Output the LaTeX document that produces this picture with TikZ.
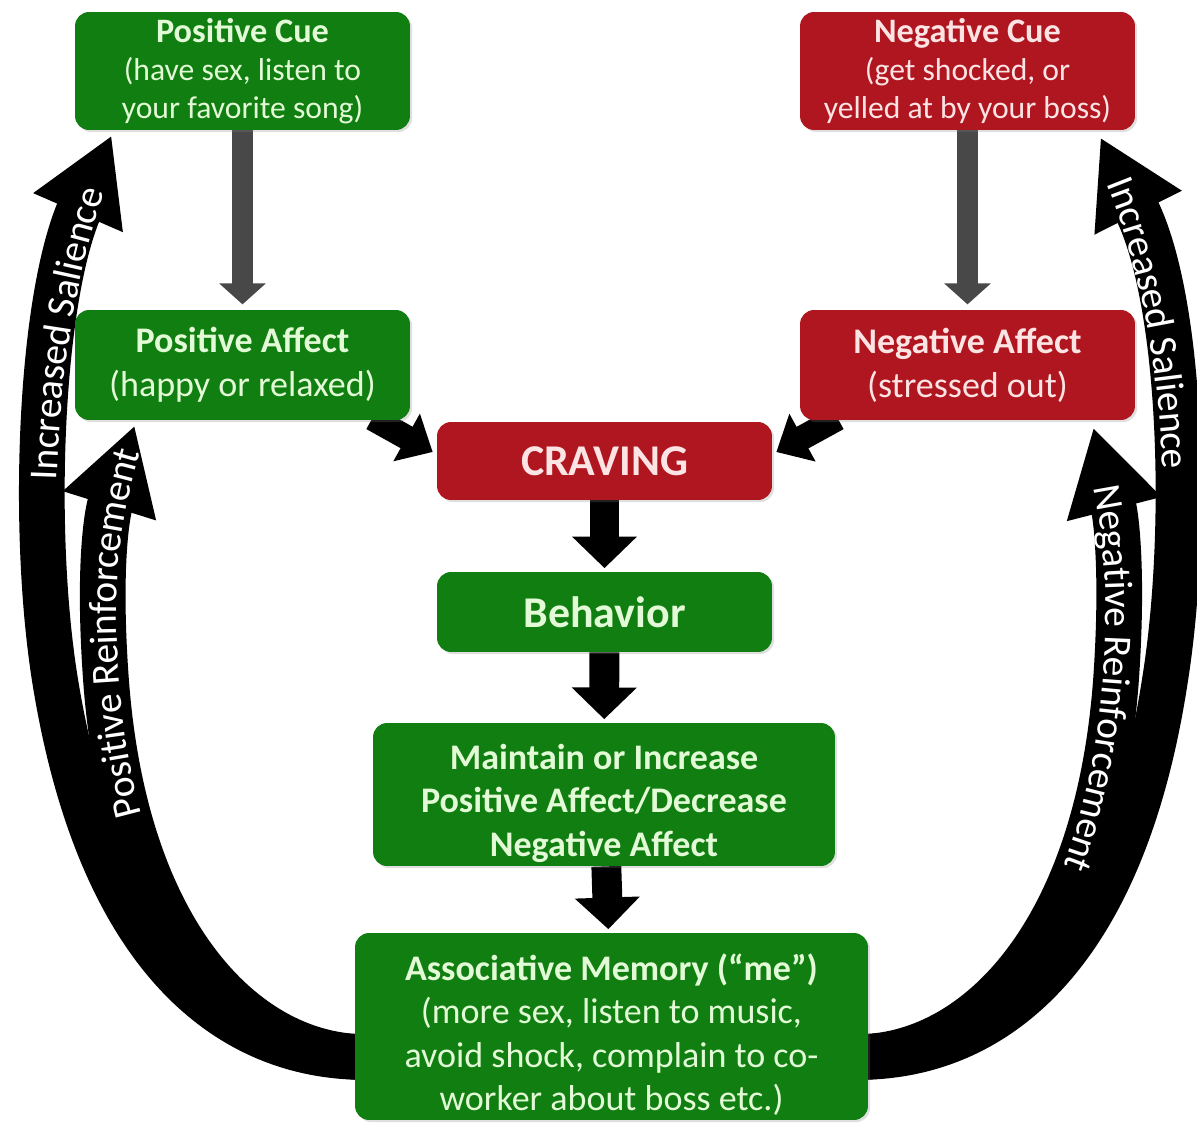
\documentclass[tikz,border=0pt]{standalone}
\usepackage{fontspec}
\setmainfont{Carlito}
\usetikzlibrary{arrows.meta,calc,decorations.text,backgrounds,shadows}
\definecolor{cuegreen}{RGB}{16,126,16}
\definecolor{cuered}{RGB}{176,22,32}
\definecolor{lightgreen}{RGB}{226,250,214}
\definecolor{lightred}{RGB}{252,228,228}
\definecolor{cuegray}{RGB}{72,72,72}
\begin{document}
\begin{tikzpicture}[x=0.02cm,y=0.02cm,
 card/.style={rounded corners=8pt,inner sep=2pt,align=center,minimum width=6.7cm,
  drop shadow={shadow xshift=1.2pt,shadow yshift=-1.2pt,opacity=0.25}},
 posbox/.style={card,fill=cuegreen,text=lightgreen},
 negbox/.style={card,fill=cuered,text=lightred},
 txtS/.style={font=\fontsize{18}{21.8}\selectfont},
 txtM/.style={font=\fontsize{20.5}{25}\selectfont},
 txtL/.style={font=\bfseries\fontsize{25}{30}\selectfont},
 cue/.style={line width=12.5pt,cuegray,shorten >=3pt,-{Triangle[length=12pt,width=26pt]}},
 flow/.style={line width=17pt,shorten >=2pt,-{Triangle[length=18pt,width=36pt]}},
 diag/.style={line width=14pt,-{Triangle[length=17pt,width=30pt]}},
 band/.style={line width=26pt,-{Triangle[length=48pt,width=52pt]}},
 lbl/.style={decorate,decoration={text along path,text color=white,raise=-7.5pt,
  text={|\fontsize{22.5}{27}\selectfont|#1}}}]
\useasboundingbox (0,0) rectangle (1197,-1125);
\node[posbox,txtS,minimum height=2.36cm] (pcue) at (242.5,-71)
 {{\bfseries\fontsize{19.5}{21.8}\selectfont Positive Cue}\\(have sex, listen to\\your favorite song)};
\node[negbox,txtS,minimum height=2.36cm] (ncue) at (967.5,-71)
 {{\bfseries\fontsize{19.5}{21.8}\selectfont Negative Cue}\\(get shocked, or\\yelled at by your boss)};
\node[posbox,txtM,minimum height=2.2cm] (paff) at (242.5,-365) {\textbf{Positive Affect}\\(happy or relaxed)};
\node[negbox,txtM,minimum height=2.2cm] (naff) at (967.5,-365) {\textbf{Negative Affect}\\(stressed out)};
\node[negbox,txtL,minimum height=1.56cm] (crav) at (604.5,-461) {CRAVING};
\node[posbox,txtL,minimum height=1.6cm] (behav) at (604.5,-612) {Behavior};
\node[posbox,font=\bfseries\fontsize{20.5}{24.7}\selectfont,minimum width=9.24cm,minimum height=2.7cm]
 (maint) at (604,-794.5) {\rule{0pt}{24.5pt}Maintain or Increase\\Positive Affect/Decrease\\Negative Affect};
\node[posbox,font=\fontsize{20.5}{24.7}\selectfont,minimum width=10.26cm,minimum height=3.74cm]
 (assoc) at (611.5,-1026.5) {\rule{0pt}{24.5pt}\textbf{Associative Memory (“me”)}\\(more sex, listen to music,\\avoid shock, complain to co-\\worker about boss etc.)};
\coordinate (ls) at ($(assoc.west)+(10,-30.5)$);
\coordinate (rs) at ($(assoc.east)+(-10,-30.5)$);
\coordinate (loe) at ($(pcue.south west)+(37,-5)$);
\coordinate (lie) at ($(paff.south west)+(60,-5)$);
\coordinate (roe) at ($(ncue.south east)+(-35,-7)$);
\coordinate (rie) at ($(naff.south east)+(-42,-7)$);
\begin{scope}[on background layer]
\draw[band] (ls) .. controls (230,-1057) and (100,-960) .. (55,-680)
 .. controls (31,-530) and (40,-300) .. (loe);
\draw[band] (ls) .. controls (250,-1057) and (125,-940) .. (106,-680)
 .. controls (98.7,-580) and (105,-520) .. (lie);
\draw[band] (rs) .. controls (992,-1057) and (1122,-960) .. (1165,-680)
 .. controls (1189,-530) and (1182,-300) .. (roe);
\draw[band] (rs) .. controls (972,-1057) and (1097,-940) .. (1116,-680)
 .. controls (1123,-580) and (1117,-520) .. (rie);
\draw[cue] (pcue) -- (paff);
\draw[cue] (ncue) -- (naff);
\draw[diag] ($(paff.south east)+(-38,2)$) -- ($(crav.west)+(-4,9)$);
\draw[diag] ($(naff.south west)+(38,2)$) -- ($(crav.east)+(4,9)$);
\draw[flow] (crav) -- (behav);
\draw[flow] (behav) -- (maint);
\draw[flow] (maint) -- (assoc);
\end{scope}
\path[lbl={Increased Salience},decoration={text align={right,right indent=32pt}}]
 (ls) .. controls (230,-1057) and (100,-960) .. (55,-680)
 .. controls (31,-530) and (40,-300) .. (loe);
\path[lbl={Positive Reinforcement},decoration={text align={right,right indent=14pt}}]
 (ls) .. controls (250,-1057) and (125,-940) .. (106,-680)
 .. controls (98.7,-580) and (105,-520) .. (lie);
\path[lbl={Increased Salience},decoration={text align={left,left indent=26pt}}]
 (roe) .. controls (1182,-300) and (1189,-530) .. (1165,-680)
 .. controls (1122,-960) and (992,-1057) .. (rs);
\path[lbl={Negative Reinforcement},decoration={text align={left,left indent=34pt}}]
 (rie) .. controls (1117,-520) and (1123,-580) .. (1116,-680)
 .. controls (1097,-940) and (972,-1057) .. (rs);
\end{tikzpicture}
\end{document}
